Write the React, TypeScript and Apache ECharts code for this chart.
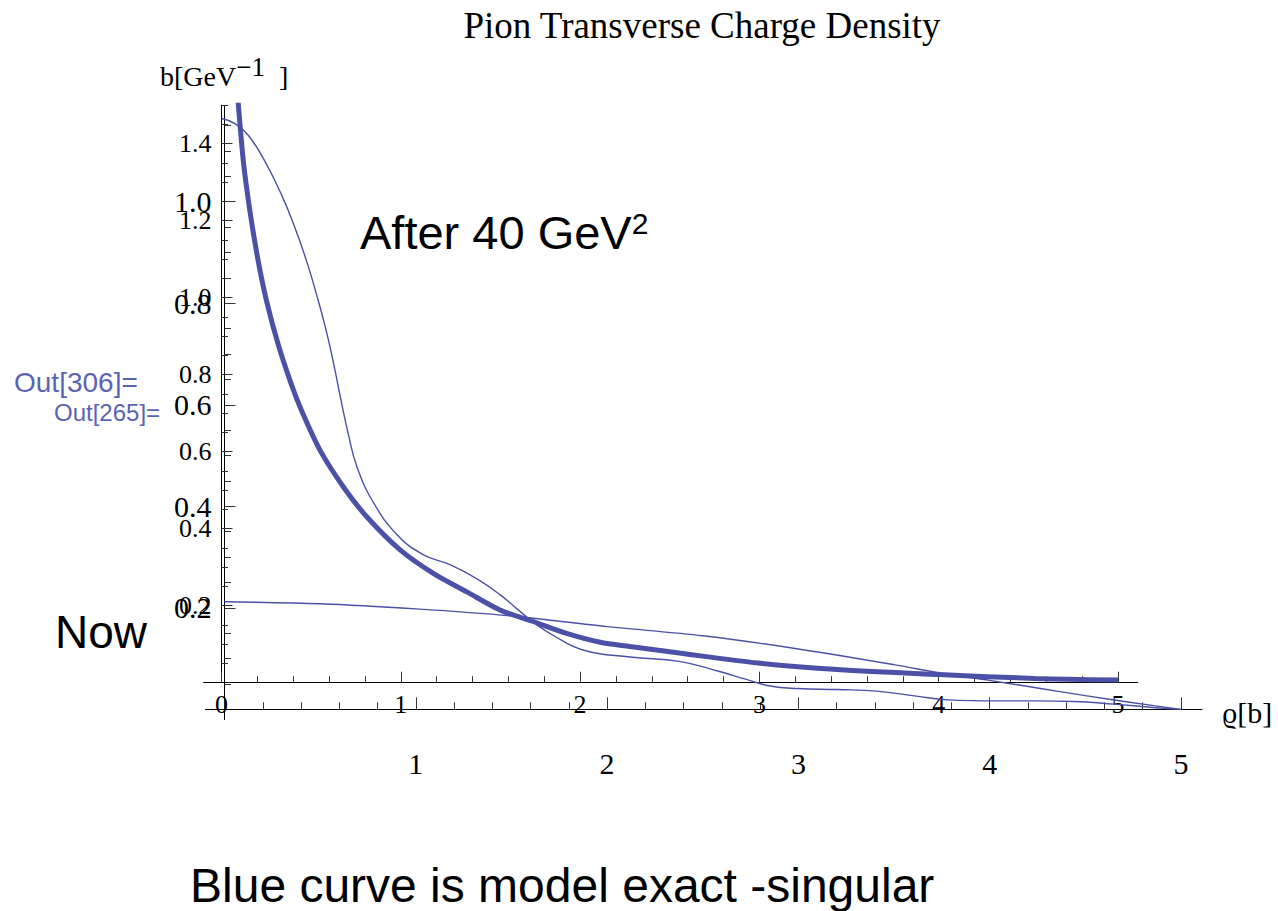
import React, { useEffect, useRef } from "react";
import * as echarts from "echarts";

// ---- Plot A (thick curve, upper x-axis) ----
const thickX = [0.07, 0.094, 0.122, 0.159, 0.205, 0.252, 0.317, 0.391, 0.449, 0.549, 0.679, 0.81, 0.996, 1.181, 1.368, 1.553, 1.739, 1.925, 2.112, 2.278, 2.553, 2.993, 3.434, 4.0, 4.536, 5.0];
const thickY = [1.63, 1.5, 1.353, 1.223, 1.094, 0.99, 0.877, 0.773, 0.704, 0.604, 0.509, 0.431, 0.345, 0.284, 0.236, 0.189, 0.159, 0.128, 0.105, 0.094, 0.077, 0.051, 0.034, 0.021, 0.011, 0.007];

// ---- Plot B (thin curves, lower x-axis) ----
const bumpyX = [-0.015, 0.055, 0.124, 0.212, 0.299, 0.369, 0.43, 0.482, 0.531, 0.572, 0.609, 0.646, 0.693, 0.776, 0.902, 1.038, 1.179, 1.32, 1.44, 1.529, 1.613, 1.717, 1.874, 2.12, 2.377, 2.583, 2.728, 2.852, 2.996, 3.203, 3.41, 3.616, 3.782, 4.03, 4.236, 4.443, 4.649, 4.856, 5.0];
const bumpyY = [1.164, 1.154, 1.131, 1.079, 1.013, 0.948, 0.882, 0.816, 0.747, 0.678, 0.609, 0.544, 0.477, 0.409, 0.344, 0.305, 0.285, 0.257, 0.226, 0.198, 0.172, 0.146, 0.117, 0.103, 0.0946, 0.075, 0.059, 0.046, 0.041, 0.039, 0.036, 0.026, 0.0187, 0.0167, 0.0167, 0.0156, 0.0102, 0.0037, 0];
const flatX = [0, 0.5, 1.0, 1.5, 2.0, 2.5, 3.0, 3.5, 3.75, 4.0, 4.25, 4.5, 4.75, 5.0];
const flatY = [0.212, 0.208, 0.198, 0.184, 0.163, 0.145, 0.119, 0.088, 0.071, 0.057, 0.042, 0.027, 0.013, 0.0];

// ---- tick labels ----
const xLabelsA = [0, 1, 2, 3, 4, 5];
const xLabelsB = [1, 2, 3, 4, 5];
const xMajorTicks = [0, 1, 2, 3, 4, 5];
const yLabelsA = [0.2, 0.4, 0.6, 0.8, 1.0, 1.2, 1.4];
const yLabelsB = [0.2, 0.4, 0.6, 0.8, 1.0];

const steps = (step: number, upTo: number, skipEvery: number) => {
  const out: number[] = [];
  for (let i = 1; i * step <= upTo + 1e-9; i++) {
    if (i % skipEvery !== 0) out.push(Math.round(i * step * 1000) / 1000);
  }
  return out;
};
const xMinorTicks = steps(0.2, 4.9, 5);
const yMinorA = steps(0.05, 1.5, 4);
const yMinorB = steps(0.05, 1.15, 4);

const zip = (xs: number[], ys: number[]) => xs.map((x, i) => [x, ys[i]]);

const SERIF = '"Liberation Serif", "Times New Roman", serif';
const SANS = '"Liberation Sans", Arial, sans-serif';
const BLUE = "#4c51a8";
const TEXTBLUE = "#5a64b2";

function xAxis(grid: number, labels: number[] | null, ticks: number[], len: number, fontSize: number, margin: number, lineVisible: boolean) {
  return {
    type: "value",
    gridIndex: grid,
    position: "bottom",
    min: -0.1,
    max: 5.11,
    axisLine: { show: true, onZero: true, lineStyle: { color: lineVisible ? "#000" : "rgba(0,0,0,0)", width: 1 } },
    axisTick: { show: true, inside: true, length: len, customValues: ticks, lineStyle: { color: "#333", width: 1 } },
    axisLabel: labels
      ? { show: true, customValues: labels, formatter: (v: number) => String(v), fontFamily: SERIF, fontSize, color: "#000", margin }
      : { show: false },
    splitLine: { show: false },
  };
}

function yAxis(grid: number, min: number, max: number, labels: number[] | null, ticks: number[], len: number, fontSize: number, margin: number, lineVisible: boolean) {
  return {
    type: "value",
    gridIndex: grid,
    position: "left",
    min,
    max,
    axisLine: { show: true, onZero: true, lineStyle: { color: lineVisible ? "#000" : "rgba(0,0,0,0)", width: 1 } },
    axisTick: { show: true, inside: true, length: len, customValues: ticks, lineStyle: { color: "#333", width: 1 } },
    axisLabel: labels
      ? { show: true, customValues: labels, formatter: (v: number) => v.toFixed(1), fontFamily: SERIF, fontSize, color: "#000", margin }
      : { show: false },
    splitLine: { show: false },
  };
}

export default function App() {
  const ref = useRef<HTMLDivElement>(null);
  useEffect(() => {
    if (!ref.current) return;
    const chart = echarts.init(ref.current, null, { renderer: "svg" });
    const option: any = {
      animation: false,
      grid: [
        { left: 203.6, top: 105.2, width: 934.1, height: 577.5, outerBoundsMode: "none" },
        { left: 205.4, top: 105.3, width: 996.6, height: 614.2, outerBoundsMode: "none" },
      ],
      xAxis: [
        xAxis(0, xLabelsA, xMajorTicks, 11, 26, 9, true),
        xAxis(0, null, xMinorTicks, 6.5, 26, 9, false),
        xAxis(1, xLabelsB, xMajorTicks, 12, 30, 29, true),
        xAxis(1, null, xMinorTicks, 7, 30, 29, false),
      ],
      yAxis: [
        yAxis(0, 0, 1.5, yLabelsA, yLabelsA, 11, 26, -8, true),
        yAxis(0, 0, 1.5, null, yMinorA, 6.5, 26, -8, false),
        yAxis(1, -0.02, 1.19, yLabelsB, yLabelsB, 11, 30, -6, true),
        yAxis(1, -0.02, 1.19, null, yMinorB, 6.5, 30, -6, false),
      ],
      series: [
        {
          type: "line", xAxisIndex: 0, yAxisIndex: 0, data: zip(thickX, thickY),
          showSymbol: false, smooth: 0.3, lineStyle: { color: BLUE, width: 5 }, itemStyle: { color: BLUE },
        },
        {
          type: "line", xAxisIndex: 2, yAxisIndex: 2, data: zip(bumpyX, bumpyY),
          showSymbol: false, smooth: 0.45, lineStyle: { color: BLUE, width: 1.4 }, itemStyle: { color: BLUE },
        },
        {
          type: "line", xAxisIndex: 2, yAxisIndex: 2, data: zip(flatX, flatY),
          showSymbol: false, smooth: 0.3, lineStyle: { color: BLUE, width: 1.4 }, itemStyle: { color: BLUE },
        },
      ],
      graphic: [
        { type: "text", x: 702, y: 25, style: { text: "Pion Transverse Charge Density", font: `37px ${SERIF}`, fill: "#000", align: "center", textAlign: "center", verticalAlign: "middle", textVerticalAlign: "middle" } },
        {
          type: "text", x: 160, y: 76,
          style: {
            text: "{a|b[GeV}{s|−1}{a|  ]}", verticalAlign: "middle", textVerticalAlign: "middle", fill: "#000",
            rich: { a: { fontFamily: SERIF, fontSize: 28, fill: "#000" }, s: { fontFamily: SERIF, fontSize: 27, fill: "#000", padding: [0, 0, 18, 0] } },
          },
        },
        {
          type: "text", x: 360, y: 232,
          style: {
            text: "{a|After 40 GeV}{s|2}", verticalAlign: "middle", textVerticalAlign: "middle", fill: "#000",
            rich: { a: { fontFamily: SANS, fontSize: 47, fill: "#000" }, s: { fontFamily: SANS, fontSize: 30, fill: "#000", verticalAlign: "top" } },
          },
        },
        { type: "text", x: 55, y: 632, style: { text: "Now", font: `46px ${SANS}`, fill: "#000", verticalAlign: "middle", textVerticalAlign: "middle" } },
        { type: "text", x: 14, y: 382, style: { text: "Out[306]=", font: `28px ${SANS}`, fill: TEXTBLUE, verticalAlign: "middle", textVerticalAlign: "middle" } },
        { type: "text", x: 54, y: 412, style: { text: "Out[265]=", font: `24px ${SANS}`, fill: TEXTBLUE, verticalAlign: "middle", textVerticalAlign: "middle" } },
        { type: "text", x: 1222, y: 712, style: { text: "ϱ[b]", font: `30px ${SERIF}`, fill: "#000", verticalAlign: "middle", textVerticalAlign: "middle" } },
        { type: "text", x: 190, y: 885, style: { text: "Blue curve is model exact -singular", font: `48px ${SANS}`, fill: "#000", verticalAlign: "middle", textVerticalAlign: "middle" } },
      ],
    };
    chart.setOption(option);
    return () => chart.dispose();
  }, []);
  return <div ref={ref} style={{ position: "absolute", left: 0, top: 0, width: 1278, height: 911, background: "#fff" }} />;
}
